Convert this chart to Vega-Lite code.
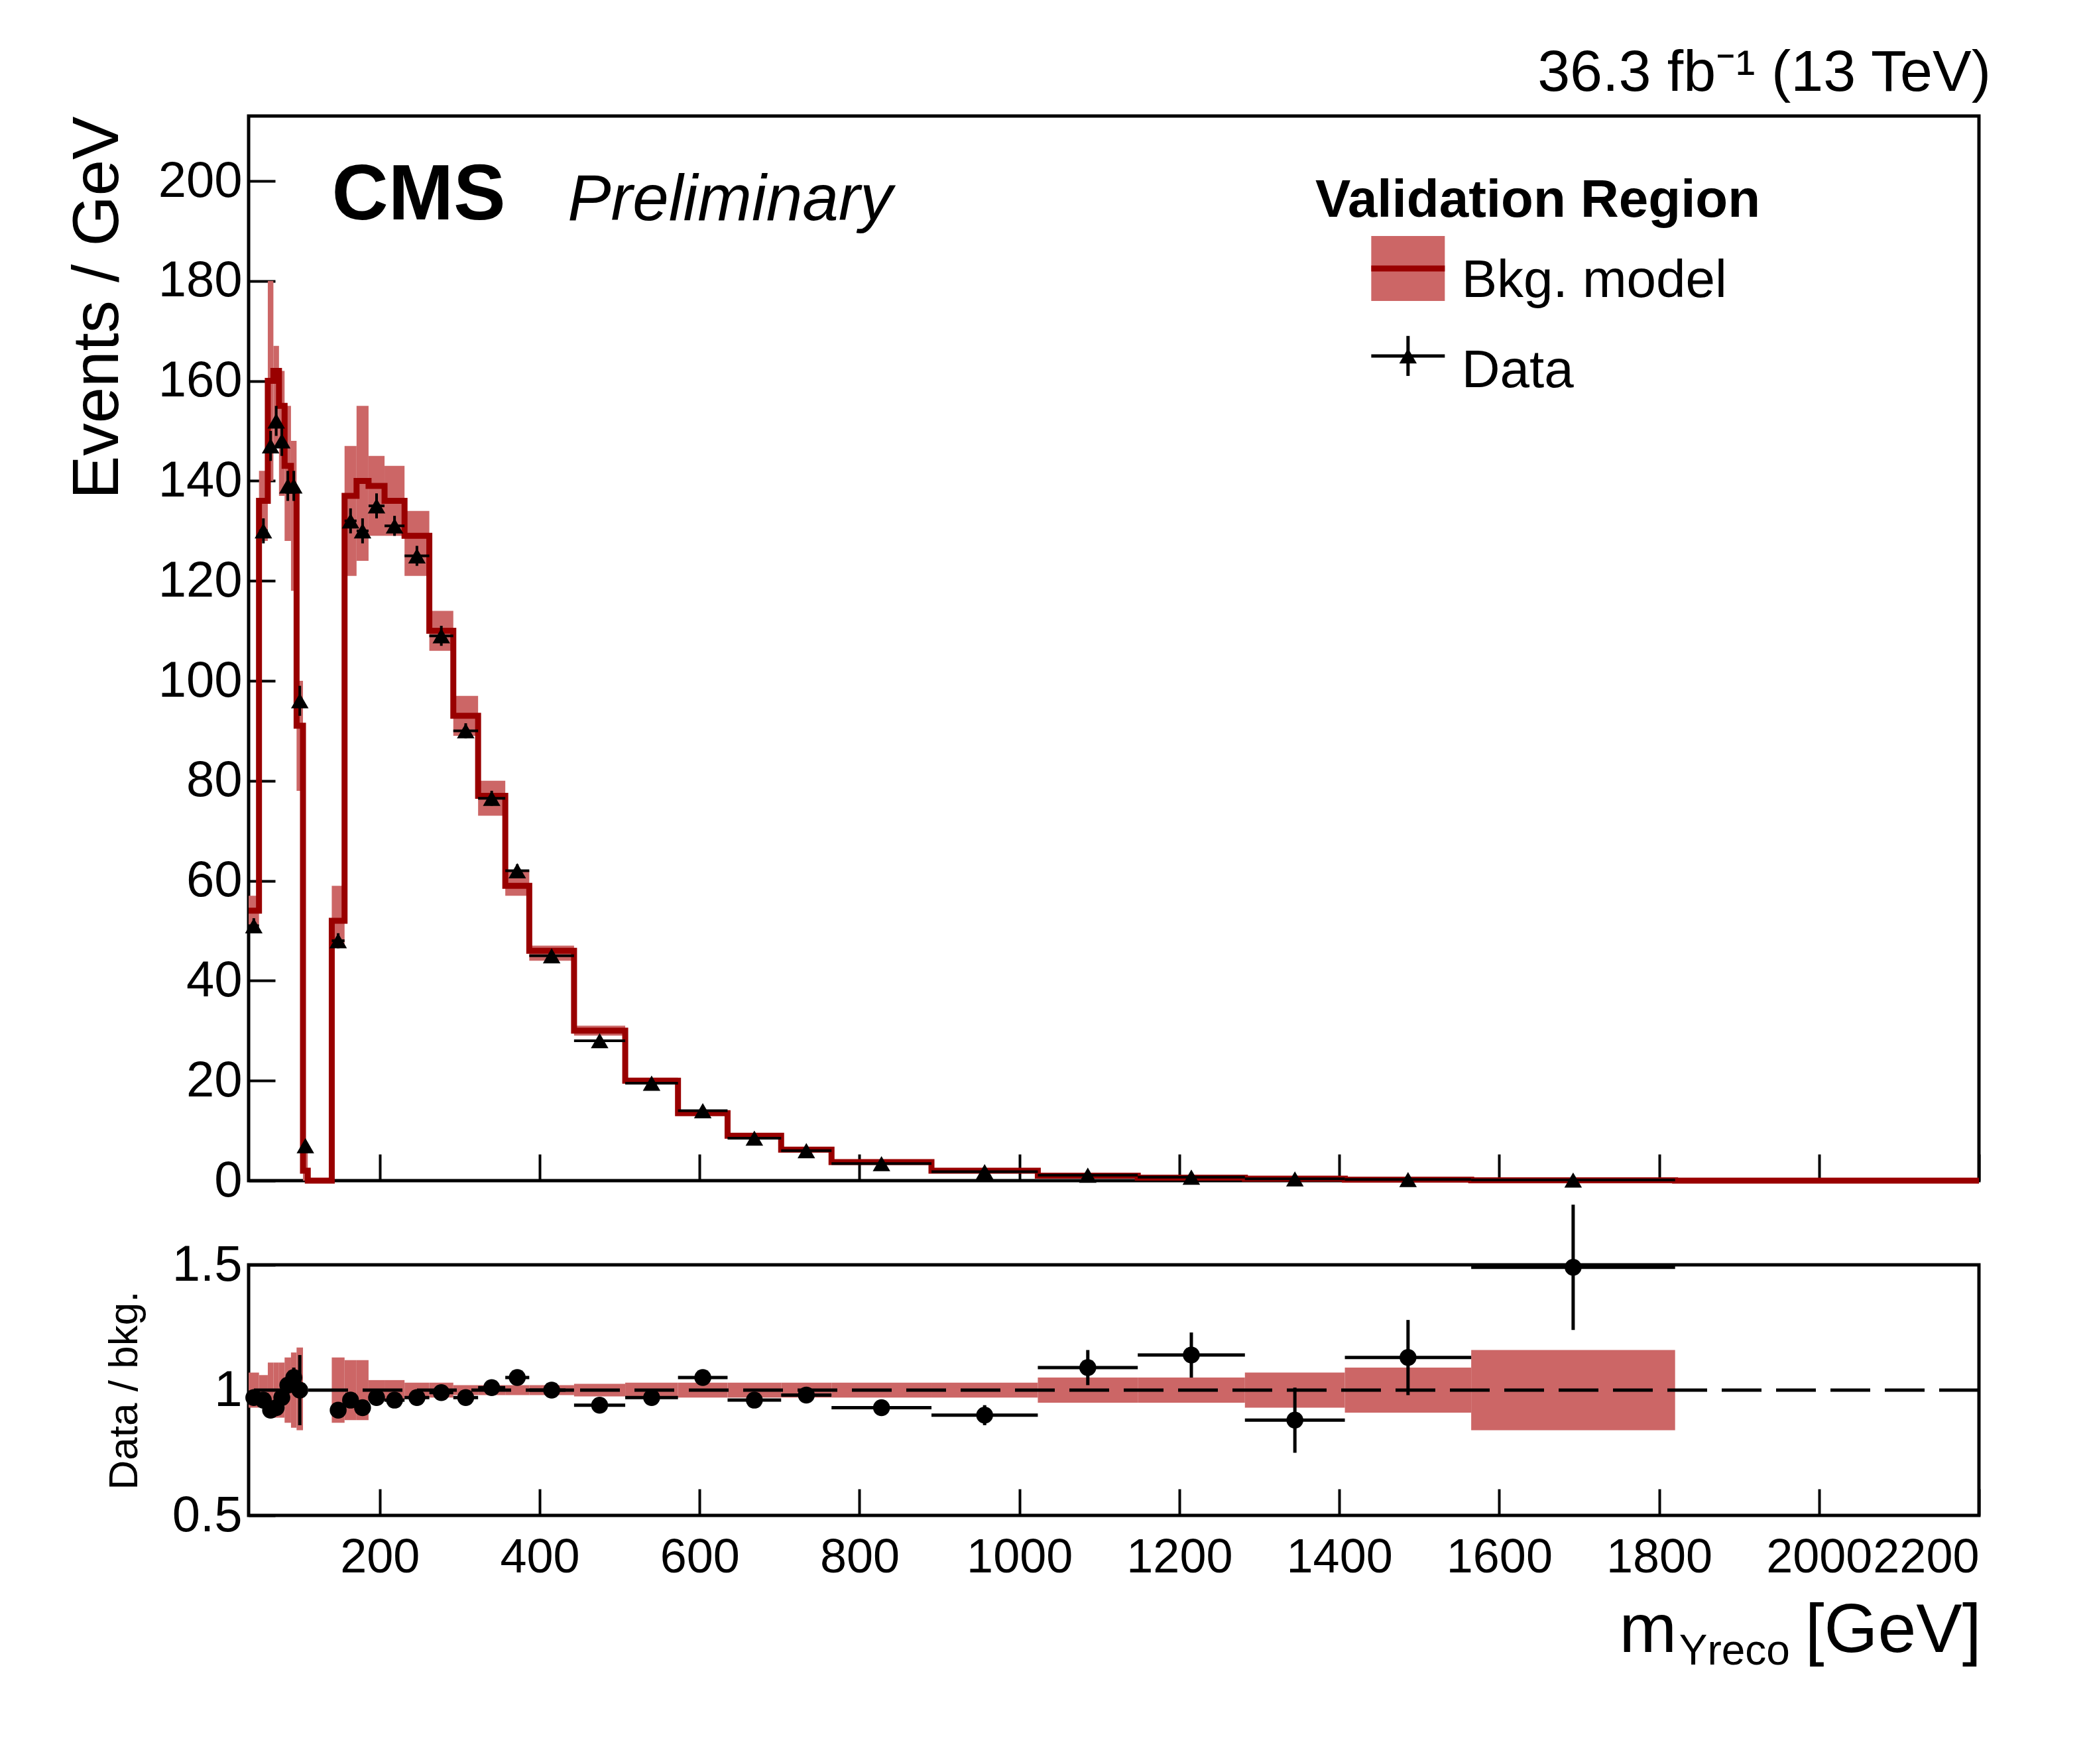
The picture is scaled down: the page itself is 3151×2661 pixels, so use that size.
{
"$schema":"https://vega.github.io/schema/vega-lite/v6.json",
"background":"white",
"padding":{"left":96,"top":64,"right":140,"bottom":60},
"spacing":-10,
"config":{"font":"Liberation Sans","view":{"stroke":"black","strokeWidth":5},
 "axis":{"labelFont":"Liberation Sans","titleFont":"Liberation Sans","domain":false,"tickColor":"black","tickWidth":4,"labelColor":"black","titleColor":"black","grid":false,"labelFontSize":76,"titleFontWeight":"normal","labelOverlap":false,"labelLimit":0}},
"datasets":{
"bins":[
{"lo":36,"hi":49,"bkg":54,"blo":51,"bhi":57,"data":51,"derr":1.5,"ratio":0.97,"rerr":0.03,"rlo":0.93,"rhi":1.07},
{"lo":49,"hi":60,"bkg":136,"blo":128,"bhi":142,"data":130,"derr":2.5,"ratio":0.96,"rerr":0.03,"rlo":0.94,"rhi":1.06},
{"lo":60,"hi":67,"bkg":160,"blo":140,"bhi":180,"data":147,"derr":3,"ratio":0.92,"rerr":0.03,"rlo":0.89,"rhi":1.11},
{"lo":67,"hi":74,"bkg":162,"blo":147,"bhi":167,"data":152,"derr":3,"ratio":0.93,"rerr":0.03,"rlo":0.89,"rhi":1.11},
{"lo":74,"hi":81,"bkg":155,"blo":137,"bhi":162,"data":148,"derr":3,"ratio":0.97,"rerr":0.03,"rlo":0.89,"rhi":1.11},
{"lo":81,"hi":89,"bkg":143,"blo":128,"bhi":155,"data":139,"derr":3,"ratio":1.02,"rerr":0.03,"rlo":0.87,"rhi":1.13},
{"lo":89,"hi":96,"bkg":138,"blo":118,"bhi":148,"data":139,"derr":3,"ratio":1.05,"rerr":0.04,"rlo":0.85,"rhi":1.15},
{"lo":96,"hi":104,"bkg":91,"blo":78,"bhi":100,"data":96,"derr":3,"ratio":1.0,"rerr":0.14,"rlo":0.84,"rhi":1.17},
{"lo":104,"hi":110,"bkg":2,"blo":0,"bhi":6,"data":7,"derr":1,"ratio":null,"rerr":null,"rlo":null,"rhi":null},
{"lo":140,"hi":156,"bkg":52,"blo":47,"bhi":59,"data":48,"derr":1.5,"ratio":0.92,"rerr":0.02,"rlo":0.87,"rhi":1.13},
{"lo":156,"hi":171,"bkg":137,"blo":121,"bhi":147,"data":132,"derr":2.5,"ratio":0.96,"rerr":0.02,"rlo":0.88,"rhi":1.12},
{"lo":171,"hi":186,"bkg":140,"blo":124,"bhi":155,"data":130,"derr":2.5,"ratio":0.93,"rerr":0.02,"rlo":0.88,"rhi":1.12},
{"lo":186,"hi":206,"bkg":139,"blo":129,"bhi":145,"data":135,"derr":2.5,"ratio":0.97,"rerr":0.02,"rlo":0.96,"rhi":1.04},
{"lo":206,"hi":231,"bkg":136,"blo":129,"bhi":143,"data":131,"derr":2,"ratio":0.96,"rerr":0.02,"rlo":0.96,"rhi":1.04},
{"lo":231,"hi":262,"bkg":129,"blo":121,"bhi":134,"data":125,"derr":2,"ratio":0.97,"rerr":0.015,"rlo":0.97,"rhi":1.03},
{"lo":262,"hi":292,"bkg":110,"blo":106,"bhi":114,"data":109,"derr":2,"ratio":0.99,"rerr":0.015,"rlo":0.97,"rhi":1.03},
{"lo":292,"hi":323,"bkg":93,"blo":89,"bhi":97,"data":90,"derr":1.5,"ratio":0.97,"rerr":0.015,"rlo":0.98,"rhi":1.02},
{"lo":323,"hi":357,"bkg":77,"blo":73,"bhi":80,"data":76.5,"derr":1.5,"ratio":1.01,"rerr":0.015,"rlo":0.98,"rhi":1.02},
{"lo":357,"hi":387,"bkg":59,"blo":57,"bhi":62,"data":62,"derr":1.3,"ratio":1.05,"rerr":0.015,"rlo":0.98,"rhi":1.02},
{"lo":387,"hi":443,"bkg":46,"blo":44,"bhi":47,"data":45,"derr":0.8,"ratio":1.0,"rerr":0.015,"rlo":0.98,"rhi":1.02},
{"lo":443,"hi":507,"bkg":30,"blo":29,"bhi":31,"data":28,"derr":0.6,"ratio":0.94,"rerr":0.02,"rlo":0.975,"rhi":1.025},
{"lo":507,"hi":573,"bkg":20,"blo":19.4,"bhi":20.6,"data":19.5,"derr":0.5,"ratio":0.97,"rerr":0.02,"rlo":0.97,"rhi":1.03},
{"lo":573,"hi":635,"bkg":13.5,"blo":13,"bhi":14,"data":14,"derr":0.4,"ratio":1.05,"rerr":0.02,"rlo":0.97,"rhi":1.03},
{"lo":635,"hi":702,"bkg":9,"blo":8.7,"bhi":9.3,"data":8.5,"derr":0.3,"ratio":0.96,"rerr":0.025,"rlo":0.97,"rhi":1.03},
{"lo":702,"hi":765,"bkg":6.2,"blo":6,"bhi":6.4,"data":6,"derr":0.3,"ratio":0.98,"rerr":0.03,"rlo":0.97,"rhi":1.03},
{"lo":765,"hi":890,"bkg":3.7,"blo":3.6,"bhi":3.8,"data":3.4,"derr":0.15,"ratio":0.93,"rerr":0.03,"rlo":0.97,"rhi":1.03},
{"lo":890,"hi":1023,"bkg":2.0,"blo":1.94,"bhi":2.06,"data":1.8,"derr":0.1,"ratio":0.9,"rerr":0.04,"rlo":0.97,"rhi":1.03},
{"lo":1023,"hi":1148,"bkg":1.0,"blo":0.95,"bhi":1.05,"data":1.1,"derr":0.08,"ratio":1.09,"rerr":0.07,"rlo":0.95,"rhi":1.05},
{"lo":1148,"hi":1282,"bkg":0.6,"blo":0.57,"bhi":0.63,"data":0.7,"derr":0.06,"ratio":1.14,"rerr":0.09,"rlo":0.95,"rhi":1.05},
{"lo":1282,"hi":1407,"bkg":0.4,"blo":0.37,"bhi":0.43,"data":0.35,"derr":0.05,"ratio":0.88,"rerr":0.13,"rlo":0.93,"rhi":1.07},
{"lo":1407,"hi":1565,"bkg":0.2,"blo":0.18,"bhi":0.22,"data":0.22,"derr":0.04,"ratio":1.13,"rerr":0.15,"rlo":0.91,"rhi":1.09},
{"lo":1565,"hi":1820,"bkg":0.08,"blo":0.07,"bhi":0.09,"data":0.12,"derr":0.03,"ratio":1.49,"rerr":0.25,"rlo":0.84,"rhi":1.16}
],
"edges":[
{"x":36,"bkg":54},{"x":49,"bkg":136},{"x":60,"bkg":160},{"x":67,"bkg":162},{"x":74,"bkg":155},{"x":81,"bkg":143},{"x":89,"bkg":138},{"x":96,"bkg":91},{"x":104,"bkg":2},{"x":110,"bkg":0},
{"x":140,"bkg":52},{"x":156,"bkg":137},{"x":171,"bkg":140},{"x":186,"bkg":139},{"x":206,"bkg":136},{"x":231,"bkg":129},{"x":262,"bkg":110},{"x":292,"bkg":93},{"x":323,"bkg":77},{"x":357,"bkg":59},{"x":387,"bkg":46},{"x":443,"bkg":30},{"x":507,"bkg":20},{"x":573,"bkg":13.5},{"x":635,"bkg":9},{"x":702,"bkg":6.2},{"x":765,"bkg":3.7},{"x":890,"bkg":2.0},{"x":1023,"bkg":1.0},{"x":1148,"bkg":0.6},{"x":1282,"bkg":0.4},{"x":1407,"bkg":0.2},{"x":1565,"bkg":0.08},{"x":1820,"bkg":0},{"x":2200,"bkg":0}
],
"labels":[
{"x":140,"y":197,"t":"CMS","k":"cms"},
{"x":435,"y":196,"t":"Preliminary","k":"prel"},
{"x":1370,"y":196,"t":"Validation Region","k":"leghead"},
{"x":1553,"y":180,"t":"Bkg. model","k":"leg"},
{"x":1553,"y":162,"t":"Data","k":"leg"}
]
},
"vconcat":[
{"width":2610,"height":1606,
 "title":{"text":"36.3 fb⁻¹ (13 TeV)","anchor":"end","fontSize":88,"font":"Liberation Sans","fontWeight":"normal","offset":20},
 "encoding":{"x":{"field":"lo","type":"quantitative","scale":{"domain":[36,2200],"nice":false,"zero":false},
   "axis":{"labels":false,"title":null,"values":[200,400,600,800,1000,1200,1400,1600,1800,2000,2200],"tickSize":-40}}},
 "layer":[
  {"data":{"name":"bins"},"mark":{"type":"rect","color":"#cc6666"},
   "encoding":{"x":{"field":"lo","type":"quantitative"},"x2":{"field":"hi"},
     "y":{"field":"blo","type":"quantitative","scale":{"domain":[0,213],"nice":false},
       "axis":{"title":"Events / GeV","titleFontSize":98,"titleAnchor":"end","titlePadding":40,"values":[0,20,40,60,80,100,120,140,160,180,200],"tickSize":-40,"labelPadding":50}},
     "y2":{"field":"bhi"}}},
  {"data":{"name":"edges"},"mark":{"type":"line","interpolate":"step-after","color":"#990000","strokeWidth":9},
   "encoding":{"x":{"field":"x","type":"quantitative"},"y":{"field":"bkg","type":"quantitative"}}},
  {"data":{"name":"bins"},"mark":{"type":"rule","color":"black","strokeWidth":4},
   "encoding":{"x":{"field":"lo","type":"quantitative"},"x2":{"field":"hi"},"y":{"field":"data","type":"quantitative"}}},
  {"data":{"name":"bins"},"transform":[{"calculate":"(datum.lo+datum.hi)/2","as":"mid"},{"calculate":"datum.data-datum.derr","as":"dlo"},{"calculate":"datum.data+datum.derr","as":"dhi"}],
   "mark":{"type":"rule","color":"black","strokeWidth":4},
   "encoding":{"x":{"field":"mid","type":"quantitative"},"y":{"field":"dlo","type":"quantitative"},"y2":{"field":"dhi"}}},
  {"data":{"name":"bins"},"transform":[{"calculate":"(datum.lo+datum.hi)/2","as":"mid"}],
   "mark":{"type":"point","shape":"triangle-up","filled":true,"color":"black","size":700,"opacity":1},
   "encoding":{"x":{"field":"mid","type":"quantitative"},"y":{"field":"data","type":"quantitative"}}},
  {"data":{"values":[{"a":1440,"b":1532,"lo":176,"hi":189,"y":182.5}]},"mark":{"type":"rect","color":"#cc6666"},
   "encoding":{"x":{"field":"a","type":"quantitative"},"x2":{"field":"b"},"y":{"field":"lo","type":"quantitative"},"y2":{"field":"hi"}}},
  {"data":{"values":[{"a":1440,"b":1532,"y":182.5}]},"mark":{"type":"rule","color":"#990000","strokeWidth":9},
   "encoding":{"x":{"field":"a","type":"quantitative"},"x2":{"field":"b"},"y":{"field":"y","type":"quantitative"}}},
  {"data":{"values":[{"a":1440,"b":1532,"y":165,"m":1486,"lo":161,"hi":169}]},"layer":[
    {"mark":{"type":"rule","color":"black","strokeWidth":5},"encoding":{"x":{"field":"a","type":"quantitative"},"x2":{"field":"b"},"y":{"field":"y","type":"quantitative"}}},
    {"mark":{"type":"rule","color":"black","strokeWidth":5},"encoding":{"x":{"field":"m","type":"quantitative"},"y":{"field":"lo","type":"quantitative"},"y2":{"field":"hi"}}},
    {"mark":{"type":"point","shape":"triangle-up","filled":true,"color":"black","size":700,"opacity":1},"encoding":{"x":{"field":"m","type":"quantitative"},"y":{"field":"y","type":"quantitative"}}}]},
  {"data":{"name":"labels"},"transform":[{"filter":"datum.k=='cms'"}],"mark":{"type":"text","align":"left","baseline":"middle","fontSize":118,"fontWeight":"bold","color":"black"},
   "encoding":{"x":{"field":"x","type":"quantitative"},"y":{"field":"y","type":"quantitative"},"text":{"field":"t"}}},
  {"data":{"name":"labels"},"transform":[{"filter":"datum.k=='prel'"}],"mark":{"type":"text","align":"left","baseline":"middle","fontSize":98,"fontStyle":"italic","color":"black"},
   "encoding":{"x":{"field":"x","type":"quantitative"},"y":{"field":"y","type":"quantitative"},"text":{"field":"t"}}},
  {"data":{"name":"labels"},"transform":[{"filter":"datum.k=='leghead'"}],"mark":{"type":"text","align":"left","baseline":"middle","fontSize":80,"fontWeight":"bold","color":"black"},
   "encoding":{"x":{"field":"x","type":"quantitative"},"y":{"field":"y","type":"quantitative"},"text":{"field":"t"}}},
  {"data":{"name":"labels"},"transform":[{"filter":"datum.k=='leg'"}],"mark":{"type":"text","align":"left","baseline":"middle","fontSize":80,"color":"black"},
   "encoding":{"x":{"field":"x","type":"quantitative"},"y":{"field":"y","type":"quantitative"},"text":{"field":"t"}}}
 ]},
{"width":2610,"height":378,
 "layer":[
  {"data":{"name":"bins"},"mark":{"type":"rect","color":"#cc6666"},
   "encoding":{"x":{"field":"lo","type":"quantitative","scale":{"domain":[36,2200],"nice":false,"zero":false},
      "axis":{"title":null,"values":[200,400,600,800,1000,1200,1400,1600,1800,2000,2200],"format":"d","tickSize":-40,"labelPadding":68,"labelFontSize":72}},
     "x2":{"field":"hi"},
     "y":{"field":"rlo","type":"quantitative","scale":{"domain":[0.5,1.5],"nice":false,"zero":false},
       "axis":{"title":"Data / bkg.","titleFontSize":62,"titlePadding":40,"values":[0.5,1,1.5],"format":"~g","tickSize":-40,"labelPadding":50}},
     "y2":{"field":"rhi"}}},
  {"data":{"values":[{"y":1}]},"mark":{"type":"rule","color":"black","strokeWidth":5,"strokeDash":[60,22]},
   "encoding":{"y":{"field":"y","type":"quantitative"}}},
  {"data":{"name":"bins"},"transform":[{"filter":"datum.ratio!=null"}],"mark":{"type":"rule","color":"black","strokeWidth":5},
   "encoding":{"x":{"field":"lo","type":"quantitative"},"x2":{"field":"hi"},"y":{"field":"ratio","type":"quantitative"}}},
  {"data":{"name":"bins"},"transform":[{"filter":"datum.ratio!=null"},{"calculate":"(datum.lo+datum.hi)/2","as":"mid"},{"calculate":"datum.ratio-datum.rerr","as":"a"},{"calculate":"datum.ratio+datum.rerr","as":"b"}],
   "mark":{"type":"rule","color":"black","strokeWidth":5},
   "encoding":{"x":{"field":"mid","type":"quantitative"},"y":{"field":"a","type":"quantitative"},"y2":{"field":"b"}}},
  {"data":{"name":"bins"},"transform":[{"filter":"datum.ratio!=null"},{"calculate":"(datum.lo+datum.hi)/2","as":"mid"}],
   "mark":{"type":"point","shape":"circle","filled":true,"color":"black","size":650,"opacity":1},
   "encoding":{"x":{"field":"mid","type":"quantitative"},"y":{"field":"ratio","type":"quantitative"}}},
  {"data":{"values":[{"x":1822,"y":-0.045,"t":"m"}]},"mark":{"type":"text","align":"right","baseline":"alphabetic","fontSize":104,"color":"black","clip":false},
   "encoding":{"x":{"field":"x","type":"quantitative"},"y":{"field":"y","type":"quantitative"},"text":{"field":"t"}}},
  {"data":{"values":[{"x":1825,"y":-0.095,"t":"Yreco"}]},"mark":{"type":"text","align":"left","baseline":"alphabetic","fontSize":64,"color":"black","clip":false},
   "encoding":{"x":{"field":"x","type":"quantitative"},"y":{"field":"y","type":"quantitative"},"text":{"field":"t"}}},
  {"data":{"values":[{"x":2203,"y":-0.045,"t":"[GeV]"}]},"mark":{"type":"text","align":"right","baseline":"alphabetic","fontSize":104,"color":"black","clip":false},
   "encoding":{"x":{"field":"x","type":"quantitative"},"y":{"field":"y","type":"quantitative"},"text":{"field":"t"}}}
 ]}
]
}
